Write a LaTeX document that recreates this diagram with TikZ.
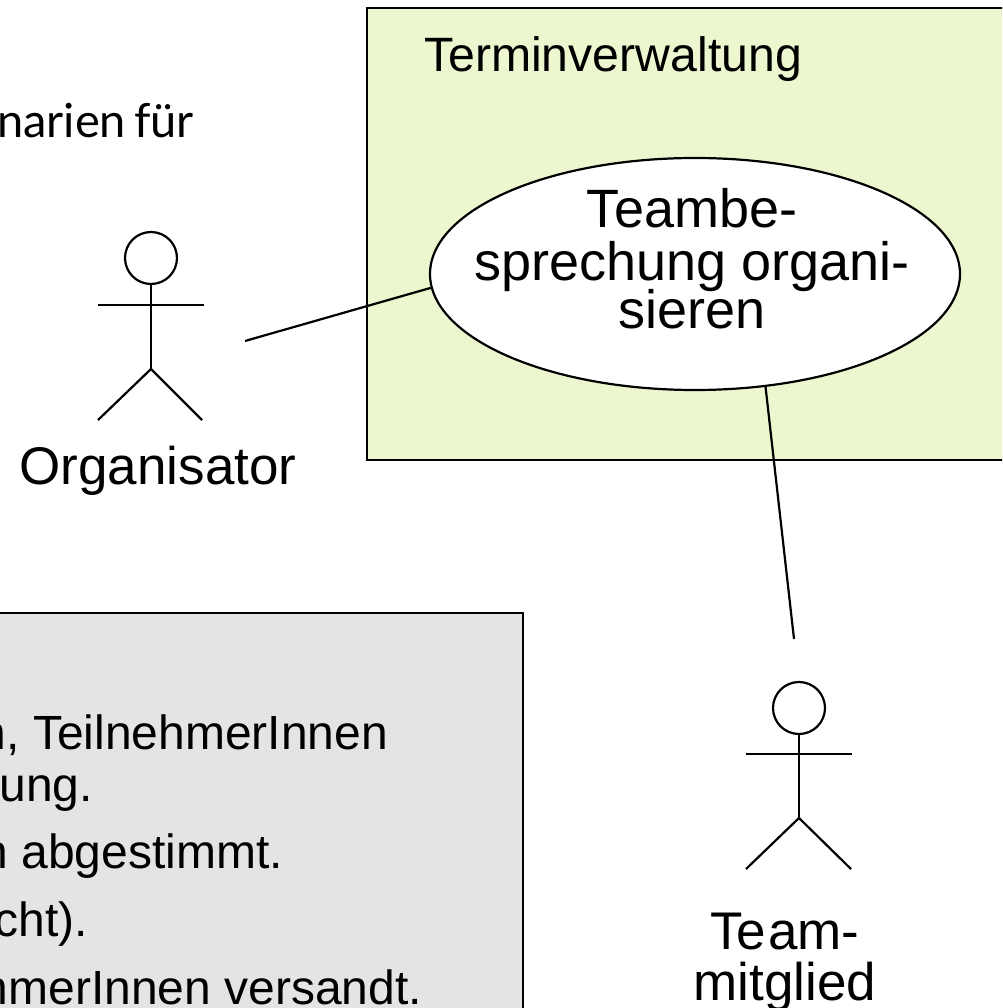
\documentclass[tikz,border=0pt]{standalone}
\usepackage{fontspec}
\usetikzlibrary{shapes.geometric}
\setmainfont{Liberation Sans}
\newfontfamily\latofont{Lato}
\definecolor{sysgreen}{HTML}{ECF6CF}
\definecolor{notegray}{HTML}{E4E4E4}
\newcommand{\fs}[1]{\fontsize{#1}{#1}\selectfont}
\tikzset{
  panel/.style={draw=black,line width=2.2pt},
  link/.style={draw=black,line width=2.2pt},
  limb/.style={draw=black,line width=2.2pt},
  lbl/.style={inner sep=0pt,outer sep=0pt,anchor=base},
  lblr/.style={inner sep=0pt,outer sep=0pt,anchor=base east},
  note/.style={lblr,font=\fs{48}},
  head/.style={draw=black,line width=2.2pt,circle,minimum size=52pt,inner sep=0pt}
}
\begin{document}
\begin{tikzpicture}[x=1pt,y=-1pt]
\useasboundingbox (0,0) rectangle (1002,1008);
\clip (0,0) rectangle (1002,1008);
% panels
\path[panel,fill=sysgreen] (367,8) rectangle (1012,460);
\path[panel,fill=notegray] (-10,613) rectangle (523,1020);
% use case
\node[draw=black,line width=2.2pt,fill=white,ellipse,minimum width=530pt,minimum height=232pt,inner sep=0pt] (uc) at (695,274) {};
\node[lbl,font=\fs{48.2}] (sys) at (613,72) {Terminverwaltung};
\node[lbl,font=\fs{54}] (l1) at (692,228) {Teambe-};
\node[lbl,font=\fs{54}] (l2) at (692,280) {sprechung organi-};
\node[lbl,font=\fs{54}] (l3) at (692,328) {sieren};
% actor Organisator
\node[head] (h1) at (151,258) {};
\coordinate (b1) at (151,369);
\coordinate (a1l) at (98,305);
\coordinate (a1r) at (204,305);
\coordinate (f1l) at (98,420);
\coordinate (f1r) at (202,420);
\draw[limb] (h1.south) -- (b1);
\draw[limb] (a1l) -- (a1r);
\draw[limb] (f1l) -- (b1) -- (f1r);
\node[lbl,font=\fs{53}] (org) at (158,484) {Organisator};
% actor Teammitglied
\node[head] (h2) at (799,708) {};
\coordinate (b2) at (799,818);
\coordinate (a2l) at (746,754);
\coordinate (a2r) at (852,754);
\coordinate (f2l) at (746,869);
\coordinate (f2r) at (851,869);
\draw[limb] (h2.south) -- (b2);
\draw[limb] (a2l) -- (a2r);
\draw[limb] (f2l) -- (b2) -- (f2r);
\node[lbl,font=\fs{53}] (t1) at (785,949) {Te\kern2pt am-};
\node[lbl,font=\fs{53}] (t2) at (785,1000) {mitglied};
% connectors
\coordinate (c1) at (245,341);
\coordinate (c2) at (794,639);
\draw[link] (c1) -- (uc.183.1);
\draw[link] (uc.-58.2) -- (c2);
% clipped texts
\node[lblr,font={\latofont\fs{47}}] (t0) at (194,138) {narien\kern-4pt\ für};
\node[note] (n1) at (388,749) {n, TeilnehmerInnen};
\node[note] (n2) at (93,801) {ung.};
\node[note] (n3) at (283,868) {n abgestimmt.};
\node[note] (n4) at (88,936) {cht).};
\node[note] (n5) at (422,1004) {nmerInnen versandt.};
\end{tikzpicture}
\end{document}
